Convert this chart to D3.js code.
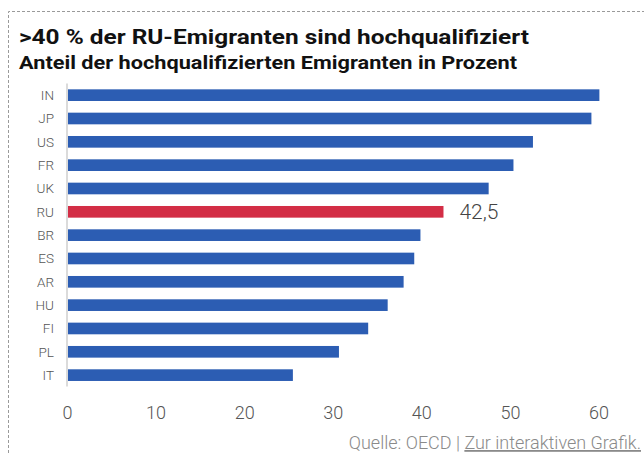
<!DOCTYPE html>
<html><head><meta charset="utf-8">
<script src="https://cdn.jsdelivr.net/npm/d3@7"></script>
<style>
html,body{margin:0;padding:0;background:#fff;}
svg{display:block;}
text{font-family:Roboto,"Noto Sans",sans-serif;}
</style></head>
<body>
<svg id="c" width="644" height="453"></svg>
<script>
const categories = ["IN","JP","US","FR","UK","RU","BR","ES","AR","HU","FI","PL","IT"];
const values = [60.1,59.2,52.6,50.4,47.6,42.5,39.9,39.2,38.0,36.2,34.0,30.7,25.5];
const highlight = "RU";
const highlightLabel = "42,5";
const xTicks = [0,10,20,30,40,50,60];
const title = ">40 % der RU-Emigranten sind hochqualifiziert";
const subtitle = "Anteil der hochqualifizierten Emigranten in Prozent";
const sourceText = "Quelle: OECD | ";
const linkText = "Zur interaktiven Grafik.";

const svg = d3.select("#c");
const data = categories.map((c,i)=>({c, v: values[i]}));

// dashed frame
svg.append("path")
  .attr("d","M8.5,453 L8.5,11.5 L644,11.5")
  .attr("fill","none").attr("stroke","#9a9a9a").attr("stroke-width",1)
  .attr("stroke-dasharray","3,2");

function fitText(sel, w){
  const n = sel.node().getComputedTextLength();
  if (Math.abs(n-w) > 2) sel.attr("textLength", w).attr("lengthAdjust","spacingAndGlyphs");
}

const t = svg.append("text").attr("x",19).attr("y",44)
  .attr("font-size",21).attr("font-weight",700).attr("fill","#111").text(title);
fitText(t, 510);
const st = svg.append("text").attr("x",19).attr("y",69)
  .attr("font-size",17.5).attr("font-weight",700).attr("fill","#111").text(subtitle);
fitText(st, 498);

const x = d3.scaleLinear().domain([0,60]).range([67,598.5]);
const y = d3.scaleBand().domain(categories).range([83.5,386.8]).paddingInner(0.5).paddingOuter(0.25);

// bars
svg.append("g").selectAll("rect").data(data).join("rect")
  .attr("x", x(0)+1)
  .attr("y", d=>y(d.c))
  .attr("width", d=>x(d.v)-x(0)-1)
  .attr("height", y.bandwidth())
  .attr("fill", d=>d.c===highlight ? "#d32d45" : "#2c5db3");

// baseline
svg.append("line").attr("x1",x(0)).attr("x2",x(0)).attr("y1",83.5).attr("y2",386.5)
  .attr("stroke","#cfcfcf").attr("stroke-width",1.5);

// y labels
const yAxis = d3.axisLeft(y).tickSize(0).tickPadding(0);
const yg = svg.append("g").attr("transform","translate(54,0)").call(yAxis);
yg.select(".domain").remove();
yg.selectAll("text").attr("font-size",13.5).attr("font-weight",300).attr("fill","#555").attr("font-family","Roboto,sans-serif").attr("dy","0.35em");

// x axis labels
const xAxis = d3.axisBottom(x).tickValues(xTicks).tickSize(0).tickPadding(0).tickFormat(d3.format("d"));
const xg = svg.append("g").attr("transform","translate(0,406)").call(xAxis);
xg.select(".domain").remove();
xg.selectAll("text").attr("font-size",18).attr("font-weight",300).attr("fill","#555").attr("font-family","Roboto,sans-serif");

// highlight value label
const hv = values[categories.indexOf(highlight)];
svg.append("text").attr("x", x(hv)+16).attr("y", y(highlight)+y.bandwidth()/2)
  .attr("dy","0.36em").attr("font-size",21).attr("font-weight",300).attr("fill","#444")
  .text(highlightLabel);

// footer
const ft = svg.append("text").attr("x",641).attr("y",449).attr("text-anchor","end")
  .attr("font-size",18).attr("font-weight",300).attr("fill","#8a8a8a");
ft.append("tspan").text(sourceText);
ft.append("tspan").attr("text-decoration","underline").text(linkText);
</script>
</body></html>
